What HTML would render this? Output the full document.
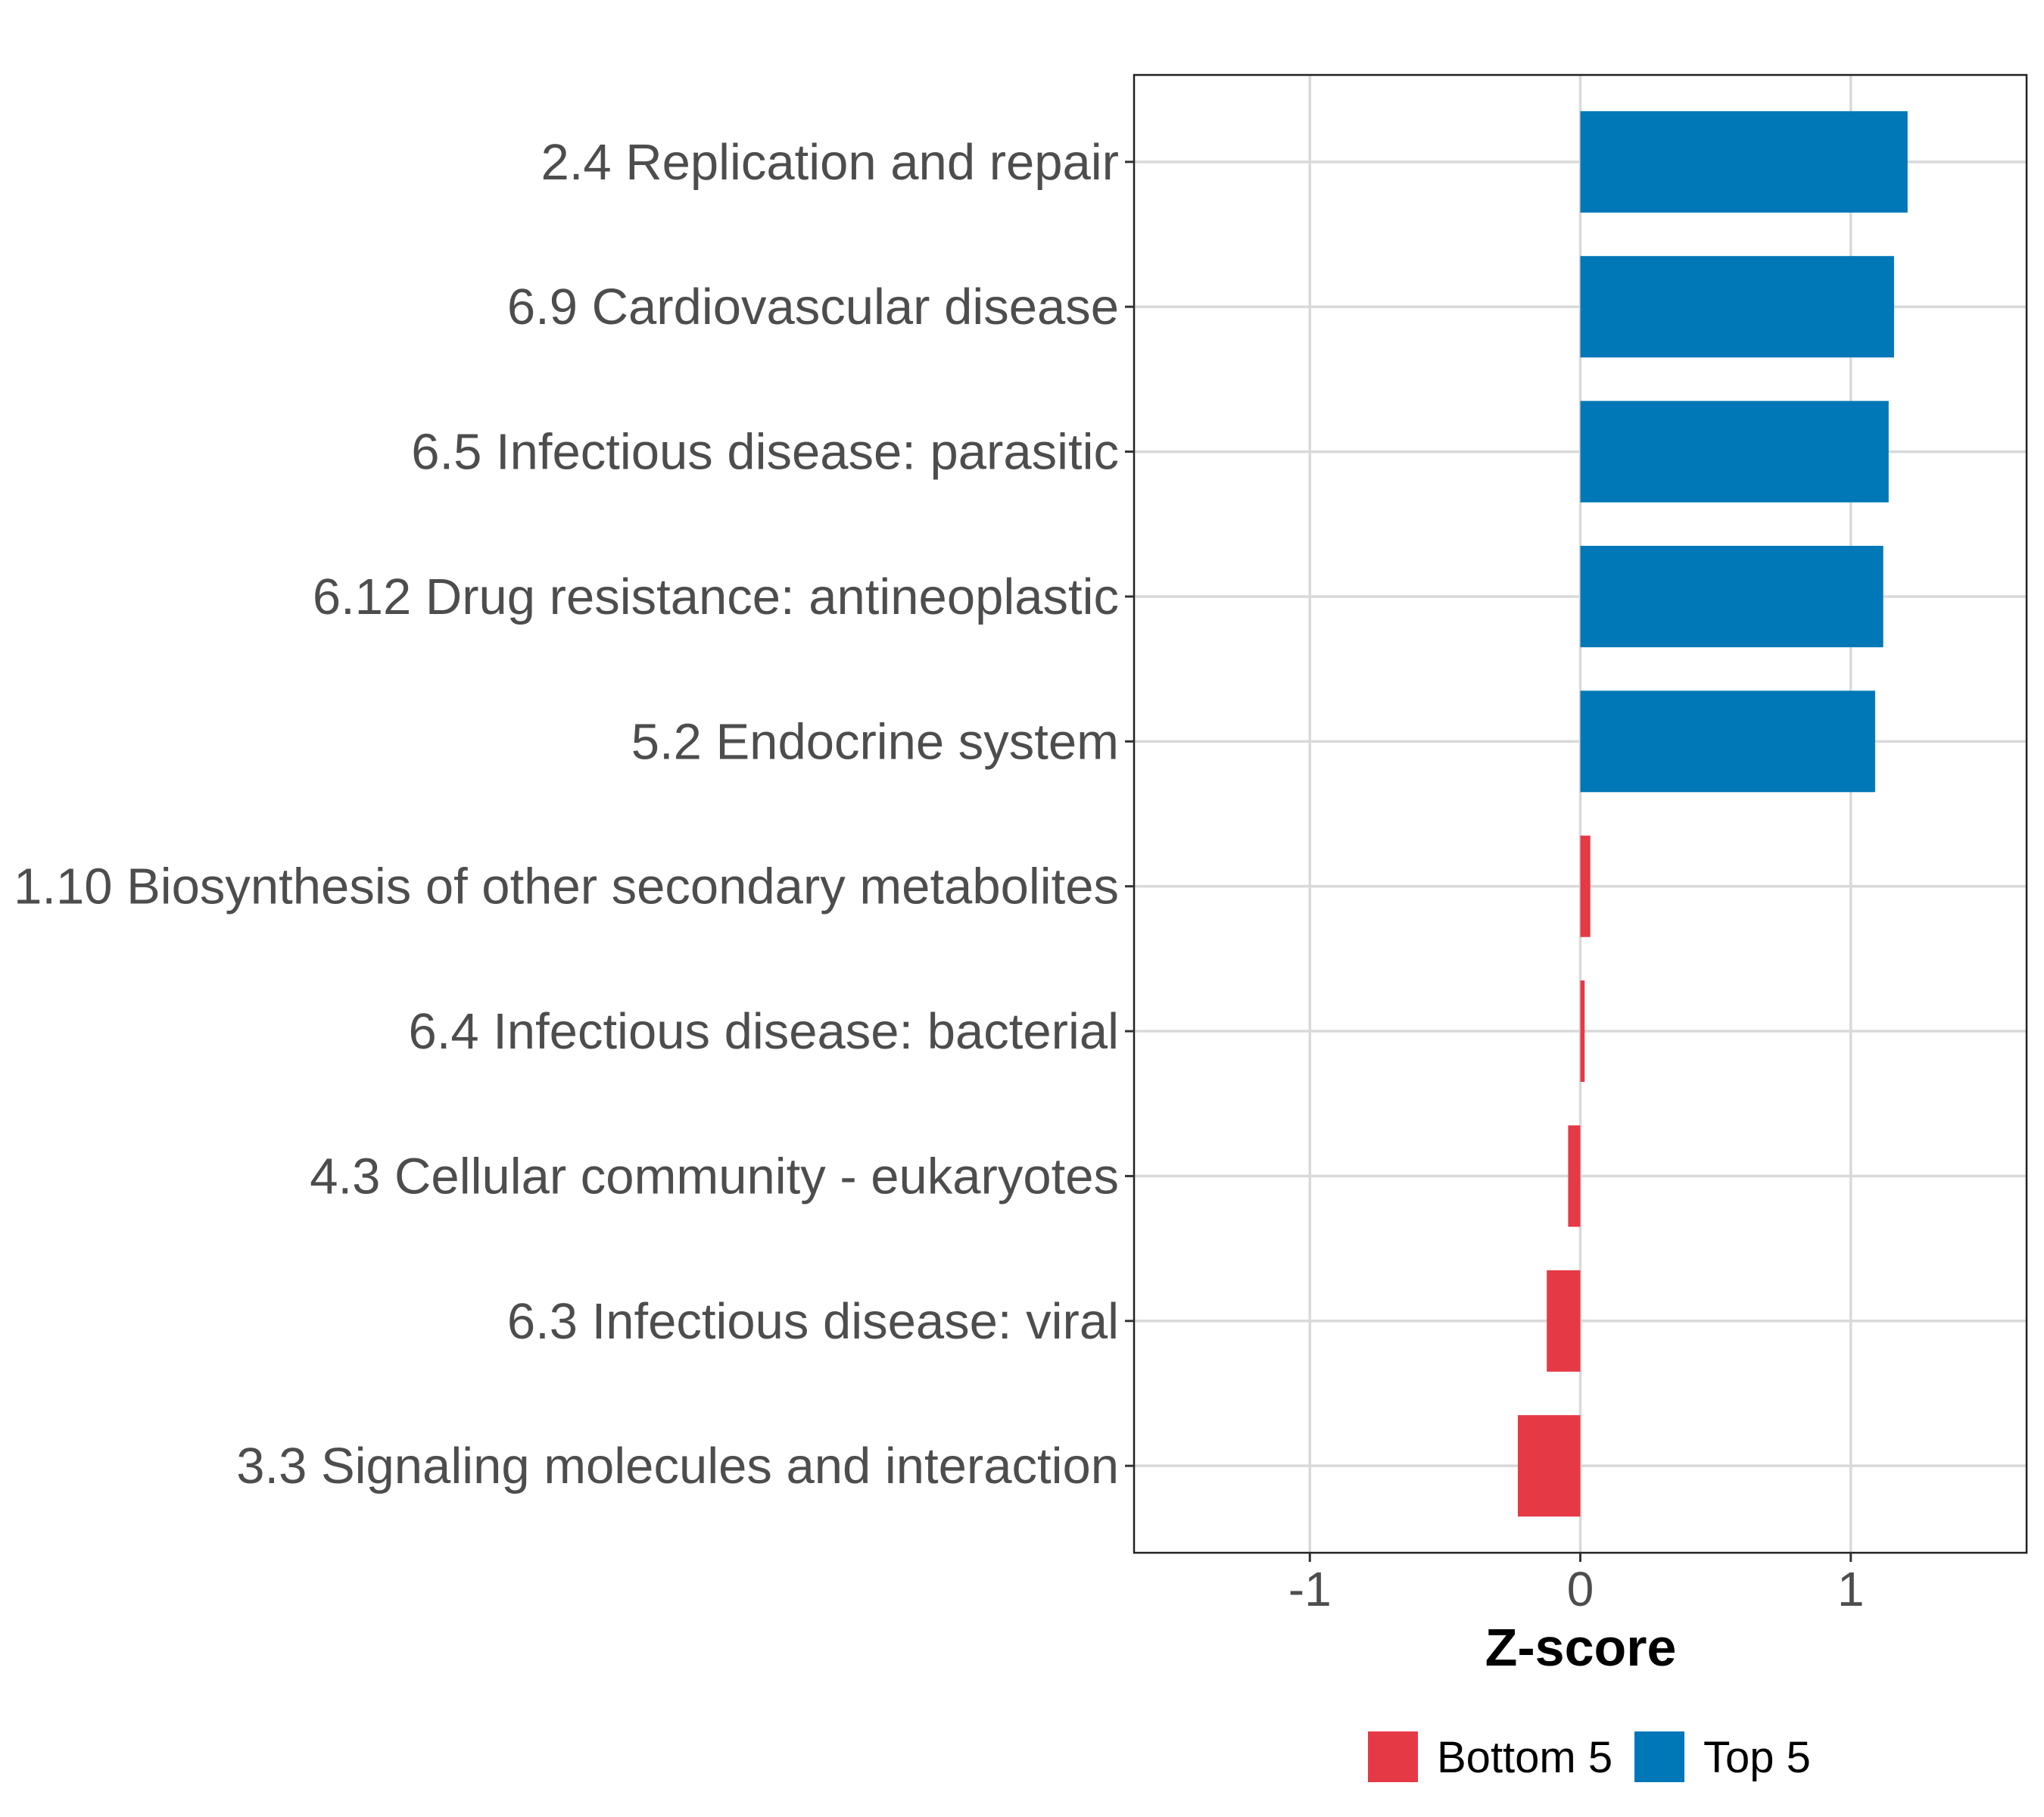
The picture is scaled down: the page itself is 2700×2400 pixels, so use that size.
<!DOCTYPE html>
<html><head><meta charset="utf-8"><style>
html,body{margin:0;padding:0;background:#fff;}
svg{display:block;font-family:"Liberation Sans",Arial,sans-serif;}
</style></head><body>
<svg id="chart" width="2700" height="2400" viewBox="0 0 2700 2400">
<rect x="0" y="0" width="2700" height="2400" fill="#fff"/>
<g id="grid"></g>
<g id="bars"></g>
<rect x="1498" y="99" width="1179" height="1952" fill="none" stroke="#222" stroke-width="2.5"/>
<g id="yaxis"></g>
<g id="xaxis"></g>
<text x="2088" y="2200" text-anchor="middle" font-size="70" font-weight="bold" fill="#000">Z-score</text>
<g>
<rect x="1807" y="2287" width="66" height="67" fill="#E63946"/>
<text x="1898" y="2341" font-size="58" fill="#000">Bottom 5</text>
<rect x="2159" y="2287" width="66" height="67" fill="#0077B6"/>
<text x="2250" y="2341" font-size="58" fill="#000">Top 5</text>
</g>
</svg>
<script>
const categories = ["2.4 Replication and repair","6.9 Cardiovascular disease","6.5 Infectious disease: parasitic","6.12 Drug resistance: antineoplastic","5.2 Endocrine system","1.10 Biosynthesis of other secondary metabolites","6.4 Infectious disease: bacterial","4.3 Cellular community - eukaryotes","6.3 Infectious disease: viral","3.3 Signaling molecules and interaction"];
const values = [1.21, 1.16, 1.14, 1.12, 1.09, 0.037, 0.016, -0.045, -0.124, -0.231];
const groups = ["Top 5","Top 5","Top 5","Top 5","Top 5","Bottom 5","Bottom 5","Bottom 5","Bottom 5","Bottom 5"];
const xTicks = [-1, 0, 1];
const xTickLabels = ["-1","0","1"];

const NS = "http://www.w3.org/2000/svg";
const colors = {"Top 5":"#0077B6","Bottom 5":"#E63946"};
const x0 = 1498, x1 = 2677, y0 = 99, y1 = 2051;
const xMin = -1.65, xMax = 1.65;
function xs(v){ return x0 + (v - xMin) / (xMax - xMin) * (x1 - x0); }
const n = categories.length;
const step = (y1 - y0) / (n - 1 + 1.2);
function ys(i){ return y0 + step * (0.6 + i); }
function mk(tag, attrs, parent){ const e = document.createElementNS(NS, tag); for (const k in attrs) e.setAttribute(k, attrs[k]); parent.appendChild(e); return e; }

const grid = document.getElementById('grid');
const bars = document.getElementById('bars');
const yaxis = document.getElementById('yaxis');
const xaxis = document.getElementById('xaxis');

xTicks.forEach((t, i) => {
  const g = mk('line', {x1: xs(t), x2: xs(t), y1: y0, y2: y1, stroke: '#d9d9d9', 'stroke-width': 3.5}, grid);
  
  
  const tk = mk('line', {x1: xs(t), x2: xs(t), y1: y1, y2: y1 + 12, stroke: '#333', 'stroke-width': 3}, xaxis);
  
  
  const lb = mk('text', {x: xs(t), y: y1 + 70, 'text-anchor': 'middle', 'font-size': 64, fill: '#4d4d4d'}, xaxis);
  lb.textContent = xTickLabels[i];
  
  
});

categories.forEach((c, i) => {
  const y = ys(i);
  const g = mk('line', {x1: x0, x2: x1, y1: y, y2: y, stroke: '#d9d9d9', 'stroke-width': 3.5}, grid);
  
  
  const v = values[i];
  const h = step * 0.7;
  const r = mk('rect', {x: Math.min(xs(0), xs(v)), y: y - h / 2, width: Math.abs(xs(v) - xs(0)), height: h, fill: colors[groups[i]]}, bars);
  
  
  const tk = mk('line', {x1: x0 - 12, x2: x0, y1: y, y2: y, stroke: '#333', 'stroke-width': 3}, yaxis);
  
  
  const lb = mk('text', {x: x0 - 20, y: y + 23, 'text-anchor': 'end', 'font-size': 67, fill: '#4d4d4d'}, yaxis);
  lb.textContent = c;
  
  
});
</script>
</body></html>
